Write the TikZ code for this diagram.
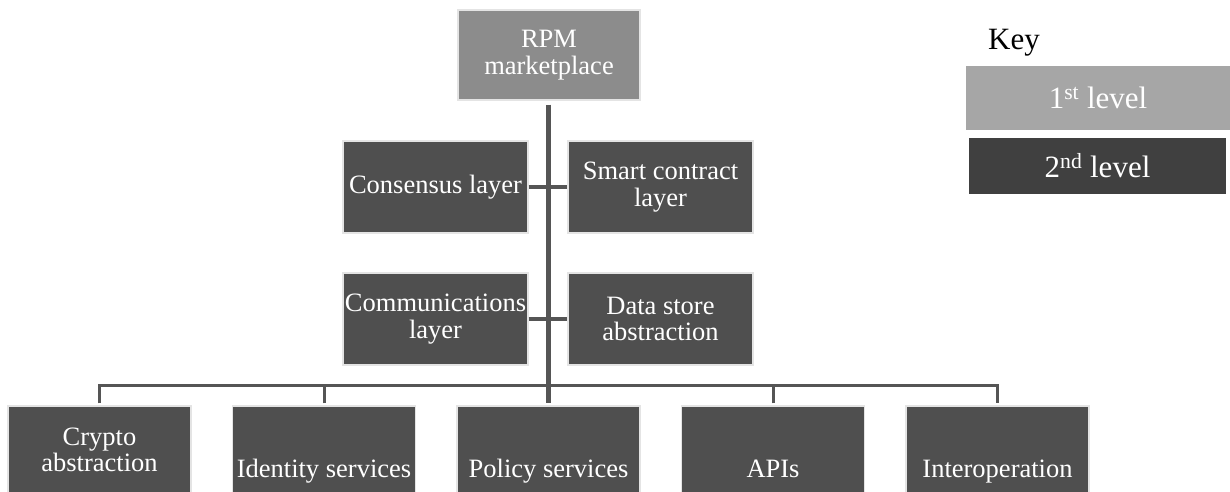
\documentclass[tikz,border=0pt]{standalone}
\usepackage{fontspec}
\setmainfont{Liberation Serif}
\definecolor{boxdark}{HTML}{4F4F4F}
\definecolor{boxtop}{HTML}{8C8C8C}
\definecolor{keyone}{HTML}{A6A6A6}
\definecolor{keytwo}{HTML}{404040}
\definecolor{linegray}{HTML}{555555}
\definecolor{edgegray}{HTML}{E4E4E4}
\tikzset{
  boxbase/.style={rectangle, draw=edgegray, line width=1.2pt, text=white, align=center,
    inner sep=0pt, font=\fontsize{26.5}{26.5}\selectfont},
  topbox/.style={boxbase, fill=boxtop, minimum width=182pt, minimum height=90pt},
  midbox/.style={boxbase, fill=boxdark, minimum width=185pt, minimum height=92pt},
  botbox/.style={boxbase, fill=boxdark, minimum width=183pt, minimum height=88pt},
  lowtext/.style={text height=60pt, text depth=6pt},
  keybox/.style={rectangle, text=white, inner sep=0pt, font=\fontsize{31}{31}\selectfont},
  trunk/.style={draw=linegray, line width=4.5pt},
  branch/.style={draw=linegray, line width=4pt},
  bus/.style={draw=linegray, line width=3pt},
}
\begin{document}
\begin{tikzpicture}[x=1pt,y=-1pt]
\useasboundingbox[fill=white] (0,0) rectangle (1230,492);
% top
\node[topbox] (rpm) at (549,55) {RPM\\marketplace};
% middle
\node[midbox] (cons) at (435.5,187) {Consensus layer};
\node[midbox] (smart) at (660.5,187) {Smart contract\\layer};
\node[midbox] (comm) at (435.5,319) {Communications\\layer};
\node[midbox] (data) at (660.5,319) {Data store\\abstraction};
% bottom
\node[botbox] (crypto) at (99.5,450) {Crypto\\abstraction};
\node[botbox, lowtext] (ident) at (324,450) {Identity services};
\node[botbox, lowtext] (policy) at (548.5,450) {Policy services};
\node[botbox, lowtext] (apis) at (773,450) {APIs};
\node[botbox, lowtext] (interop) at (997.5,450) {Interoperation};
% key
\node[font=\fontsize{31}{31}\selectfont, inner sep=0pt, anchor=base] (keytitle) at (1014,50) {Key};
\node[keybox, fill=keyone, minimum width=264pt, minimum height=64pt] (key1) at (1098,98) {1\textsuperscript{st} level};
\node[keybox, fill=keytwo, minimum width=257pt, minimum height=56pt] (key2) at (1097.5,166) {2\textsuperscript{nd} level};
% connectors
\coordinate (trunkend) at (548.5,403);
\coordinate (busmid) at (548.5,385);
\draw[trunk] ([yshift=-4pt]rpm.south -| trunkend) -- (trunkend);
\draw[branch] (cons.east) -- (smart.west);
\draw[branch] (comm.east) -- (data.west);
\draw[bus] ([yshift=2pt]crypto.north) |- (busmid) -| ([yshift=2pt]interop.north);
\draw[bus] ([yshift=2pt]ident.north) -- (ident.north |- busmid);
\draw[bus] ([yshift=2pt]apis.north) -- (apis.north |- busmid);
\end{tikzpicture}
\end{document}
